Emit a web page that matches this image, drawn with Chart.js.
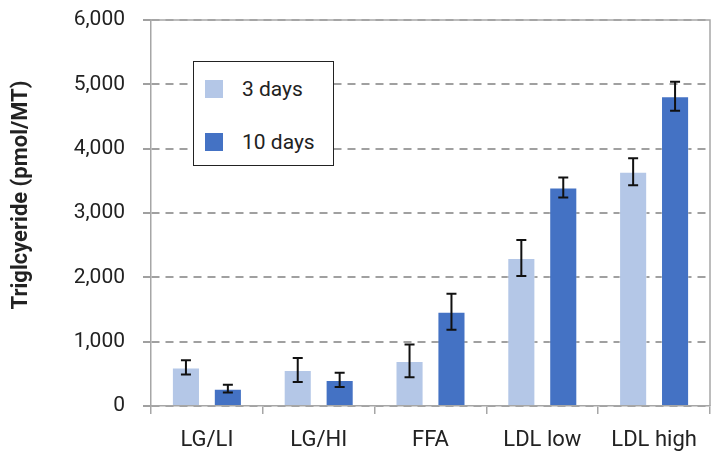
<!DOCTYPE html>
<html>
<head>
<meta charset="utf-8">
<script src="https://cdn.jsdelivr.net/npm/chart.js@4.4.0/dist/chart.umd.min.js"></script>
<style>
  html, body { margin: 0; padding: 0; background: #fff; }
  #wrap { position: relative; width: 726px; height: 452px; }
  #legend {
    position: absolute; left: 193px; top: 61px; width: 139px; height: 103px;
    border: 1.5px solid #222; background: #fff;
    font-family: Roboto, sans-serif; font-size: 21px; line-height: 24px; color: #222;
  }
  .item { position: absolute; left: 11px; display: flex; align-items: center; }
  .item span.sw { display: inline-block; width: 18px; height: 18px; margin-right: 19px; }
</style>
</head>
<body>
<div id="wrap">
  <canvas id="myChart" width="726" height="452"></canvas>
  <div id="legend"></div>
</div>
<script>
'use strict';

// data
const categories = ['LG/LI', 'LG/HI', 'FFA', 'LDL low', 'LDL high'];
const seriesNames = ['3 days', '10 days'];
const days3 = [600, 560, 700, 2300, 3640];
const days10 = [270, 405, 1465, 3395, 4815];
const err3 = [110, 185, 255, 280, 210];
const err10 = [60, 110, 280, 155, 225];
const yTicks = [0, 1000, 2000, 3000, 4000, 5000, 6000];
const yTitle = 'Triglcyeride (pmol/MT)';

const colors = ['#b4c7e7', '#4472c4'];
const errors = [err3, err10];

// plot frame (top + right border lines) and the y title
const framePlugin = {
  id: 'frame',
  beforeDatasetsDraw(chart) {
    const a = chart.chartArea, ctx = chart.ctx;
    ctx.save();
    ctx.strokeStyle = '#a6a6a6';
    ctx.lineWidth = 1.5;
    ctx.beginPath();
    ctx.moveTo(a.left, a.top);
    ctx.lineTo(a.right, a.top);
    ctx.lineTo(a.right, a.bottom);
    ctx.stroke();
    ctx.restore();
  },
  afterDraw(chart) {
    const ctx = chart.ctx;
    ctx.save();
    ctx.translate(21, 195);
    ctx.rotate(-Math.PI / 2);
    ctx.font = 'bold 22px Roboto';
    ctx.fillStyle = '#222';
    ctx.textAlign = 'center';
    ctx.textBaseline = 'middle';
    ctx.fillText(yTitle, 0, 0);
    ctx.restore();
  }
};

// error bars drawn from the err arrays
const errorBarPlugin = {
  id: 'errorBars',
  afterDatasetsDraw(chart) {
    const ctx = chart.ctx, y = chart.scales.y;
    ctx.save();
    ctx.strokeStyle = '#111';
    ctx.lineWidth = 2;
    chart.data.datasets.forEach(function (ds, di) {
      const meta = chart.getDatasetMeta(di);
      meta.data.forEach(function (bar, i) {
        const v = ds.data[i], e = errors[di][i];
        const top = y.getPixelForValue(v + e), bot = y.getPixelForValue(v - e);
        const x = bar.x, cap = 5;
        ctx.beginPath();
        ctx.moveTo(x, top); ctx.lineTo(x, bot);
        ctx.moveTo(x - cap, top); ctx.lineTo(x + cap, top);
        ctx.moveTo(x - cap, bot); ctx.lineTo(x + cap, bot);
        ctx.stroke();
      });
    });
    ctx.restore();
  }
};

const ctx = document.getElementById('myChart');
const myChart = new Chart(ctx, {
  type: 'bar',
  data: {
    labels: categories,
    datasets: [
      { label: seriesNames[0], data: days3, backgroundColor: colors[0], borderColor: 'rgba(255,255,255,0.5)', borderWidth: 1 },
      { label: seriesNames[1], data: days10, backgroundColor: colors[1], borderColor: 'rgba(255,255,255,0.3)', borderWidth: 1 }
    ]
  },
  options: {
    responsive: false,
    animation: false,
    devicePixelRatio: 1,
    layout: { padding: { top: 20, right: 16, left: 0, bottom: 0 } },
    categoryPercentage: 0.75,
    barPercentage: 0.67,
    plugins: { legend: { display: false }, tooltip: { enabled: false } },
    scales: {
      x: {
        grid: { offset: true, drawOnChartArea: false, tickLength: 8, color: '#a6a6a6', lineWidth: 1.5 },
        border: { color: '#a6a6a6', width: 1.5 },
        ticks: { color: '#222', font: { family: 'Roboto', size: 22 }, padding: 13, maxRotation: 0 },
        afterFit(scale) { scale.height = 46; scale.paddingLeft = 0; scale.paddingRight = 0; }
      },
      y: {
        min: 0, max: 6000,
        afterBuildTicks(scale) { scale.ticks = yTicks.map(function (v) { return { value: v }; }); },
        grid: { color: '#a0a0a0', lineWidth: 2, tickLength: 8 },
        border: { color: '#a6a6a6', width: 1.5, dash: [8, 6] },
        ticks: {
          color: '#222', font: { family: 'Roboto', size: 21 }, padding: 18,
          callback: function (v) { return v.toLocaleString('en-US'); }
        },
        afterFit(scale) { scale.width = 151; scale.paddingTop = 0; scale.paddingBottom = 0; }
      }
    }
  },
  plugins: [framePlugin, errorBarPlugin]
});

// legend box built from dataset names
const legend = document.getElementById('legend');
seriesNames.forEach(function (name, i) {
  const d = document.createElement('div');
  d.className = 'item';
  d.style.top = (i === 0 ? 15 : 68) + 'px';
  d.innerHTML = '<span class="sw" style="background:' + colors[i] + '"></span><span>' + name + '</span>';
  legend.appendChild(d);
});
</script>
</body>
</html>
